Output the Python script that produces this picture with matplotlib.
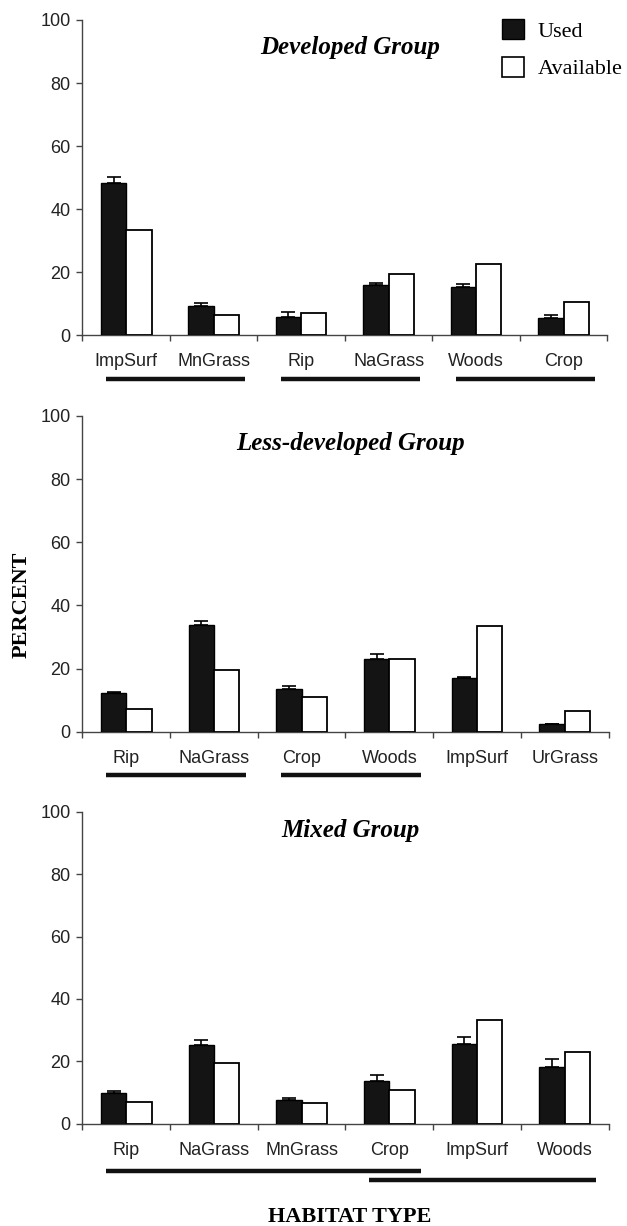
import numpy as np
import matplotlib
matplotlib.use('Agg')
import matplotlib.pyplot as plt
from matplotlib.patches import Patch

# Dados (percentagem usada / disponível por tipo de habitat)
dev_cats = ['ImpSurf', 'MnGrass', 'Rip', 'NaGrass', 'Woods', 'Crop']
dev_used = [48.2, 9.3, 5.9, 15.8, 15.2, 5.4]
dev_err = [2.1, 0.9, 1.6, 0.9, 1.0, 1.0]
dev_avail = [33.4, 6.4, 7.0, 19.5, 22.6, 10.7]
dev_groups = [(0, 1), (2, 3), (4, 5)]

less_cats = ['Rip', 'NaGrass', 'Crop', 'Woods', 'ImpSurf', 'UrGrass']
less_used = [12.1, 33.7, 13.6, 22.9, 17.0, 2.4]
less_err = [0.5, 1.5, 1.0, 1.6, 0.4, 0.0]
less_avail = [7.1, 19.5, 11.0, 22.9, 33.5, 6.5]
less_groups = [(0, 1), (2, 3)]

mix_cats = ['Rip', 'NaGrass', 'MnGrass', 'Crop', 'ImpSurf', 'Woods']
mix_used = [9.9, 25.1, 7.7, 13.7, 25.6, 18.1]
mix_err = [0.6, 1.7, 0.4, 1.9, 2.2, 2.7]
mix_avail = [7.05, 19.55, 6.5, 10.8, 33.2, 22.9]
mix_groups = [(0, 3), (3, 5)]

paineis = [
    ('Developed Group', dev_cats, dev_used, dev_err, dev_avail, dev_groups,
     [0.1315, 0.7265, 0.837, 0.2572], 0.914, [-0.14, -0.14, -0.14]),
    ('Less-developed Group', less_cats, less_used, less_err, less_avail, less_groups,
     [0.1315, 0.4032, 0.839, 0.2575], 0.914, [-0.137, -0.137]),
    ('Mixed Group', mix_cats, mix_used, mix_err, mix_avail, mix_groups,
     [0.1315, 0.0834, 0.839, 0.2545], 0.94, [-0.152, -0.181]),
]

sans = 'Liberation Sans'
serif = 'Liberation Serif'
cor_eixo = '#444444'

fig = plt.figure(figsize=(6.27, 12.26), dpi=100)
w = 0.29

for titulo, cats, used, err, avail, grupos, pos, ytit, ylinhas in paineis:
    ax = fig.add_axes(pos)
    x = np.arange(len(cats))
    ax.bar(x - w / 2, used, w, color='#141414', edgecolor='black', linewidth=1.0, zorder=3)
    ax.bar(x + w / 2, avail, w, color='white', edgecolor='black', linewidth=1.3, zorder=3)
    ax.errorbar(x - w / 2, used, yerr=[np.zeros(len(err)), err], fmt='none',
                ecolor='black', elinewidth=1.2, capsize=5, capthick=1.2, zorder=2)

    ax.set_xlim(-0.5, len(cats) - 0.5)
    ax.set_ylim(0, 100)
    ax.set_yticks([0, 20, 40, 60, 80, 100])
    ax.set_xticks(x)
    ax.set_xticklabels(cats)
    ax.set_xticks(np.arange(len(cats) + 1) - 0.5, minor=True)
    ax.tick_params(axis='x', which='major', length=0, pad=13, labelsize=13, labelcolor='#222222')
    ax.tick_params(axis='x', which='minor', length=4.5, direction='out', color=cor_eixo, width=1)
    ax.tick_params(axis='y', length=4.5, width=1, color=cor_eixo, pad=4, labelsize=13,
                   labelcolor='#222222')
    for lab in ax.get_xticklabels() + ax.get_yticklabels():
        lab.set_family(sans)
    for lado in ['top', 'right']:
        ax.spines[lado].set_visible(False)
    for lado in ['left', 'bottom']:
        ax.spines[lado].set_color(cor_eixo)
        ax.spines[lado].set_linewidth(1.0)

    ax.text(0.51, ytit, titulo, transform=ax.transAxes, ha='center', va='center',
            family=serif, fontsize=18, fontweight='bold', fontstyle='italic')

    # linhas de agrupamento por baixo dos nomes
    for (a, b), yl in zip(grupos, ylinhas):
        ax.plot([a - 0.23, b + 0.36], [yl, yl], color='#111111', linewidth=3.2,
                solid_capstyle='butt', transform=ax.get_xaxis_transform(), clip_on=False)

handles = [Patch(facecolor='#141414', edgecolor='black'),
           Patch(facecolor='white', edgecolor='black', linewidth=1.2)]
fig.legend(handles, ['Used', 'Available'], loc='upper left', bbox_to_anchor=(0.801, 0.9845),
           frameon=False, prop={'family': serif, 'size': 16}, handlelength=1.0,
           handleheight=1.0, handletextpad=0.6, labelspacing=0.68, borderpad=0, borderaxespad=0)

fig.text(0.035, 0.507, 'PERCENT', rotation=90, ha='center', va='center',
         family=serif, fontsize=16, fontweight='bold')
fig.text(0.557, 0.0075, 'HABITAT TYPE', ha='center', va='center',
         family=serif, fontsize=16, fontweight='bold')

fig.savefig('out.png', dpi=100)
